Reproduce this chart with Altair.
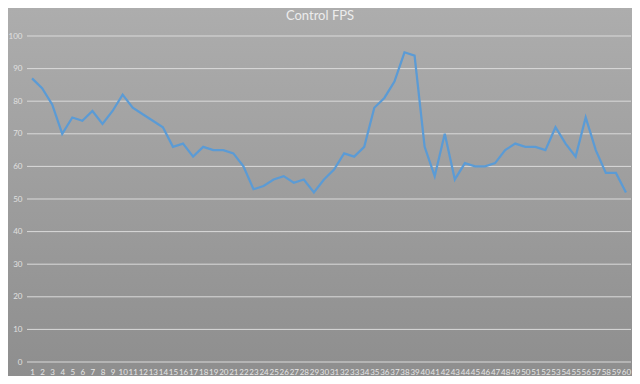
import altair as alt
import pandas as pd

frames = list(range(1, 61))
fps = [87, 84, 79, 70, 75, 74, 77, 73, 77, 82,
       78, 76, 74, 72, 66, 67, 63, 66, 65, 65,
       64, 60, 53, 54, 56, 57, 55, 56, 52, 56,
       59, 64, 63, 66, 78, 81, 86, 95, 94, 66,
       57, 70, 56, 61, 60, 60, 61, 65, 67, 66,
       66, 65, 72, 67, 63, 75, 65, 58, 58, 52]
y_ticks = list(range(0, 101, 10))

df = pd.DataFrame({"frame": frames, "fps": fps})
grid_df = pd.DataFrame({"v": y_ticks})

W, H = 604, 326
PL, PT, PR, PB = 19, 28, 1, 14

bg = alt.Chart(pd.DataFrame({"a": [0]})).mark_rect(
    fill={"gradient": "linear", "x1": 0, "y1": 0, "x2": 0, "y2": 1,
          "stops": [{"offset": 0, "color": "#adadad"},
                    {"offset": 1, "color": "#8e8e8e"}]}
).encode(
    x=alt.value(-PL), x2=alt.value(W + PR),
    y=alt.value(-PT), y2=alt.value(H + PB)
)

y_axis = alt.Axis(values=y_ticks, labelFontSize=8, labelColor="#e0e0e0",
                  labelFont="Lato", ticks=False, domain=False,
                  labelOverlap=False, grid=False, labelPadding=5, zindex=2)

grid = alt.Chart(grid_df).mark_rule(color="#dadada", strokeWidth=1).encode(
    y=alt.Y("v:Q", title=None, axis=y_axis,
            scale=alt.Scale(domain=[0, 100], nice=False)),
    x=alt.value(0), x2=alt.value(W)
)

line = alt.Chart(df).mark_line(color="#5b9bd5", strokeWidth=2.25).encode(
    x=alt.X("frame:O", sort=frames, title=None,
            scale=alt.Scale(paddingOuter=0.5),
            axis=alt.Axis(labelAngle=0, labelOverlap=False, labelFontSize=8,
                          labelColor="#e6e6e6", labelFont="Lato", ticks=False,
                          domain=False, grid=False, labelPadding=6, zindex=2)),
    y=alt.Y("fps:Q", title=None,
            scale=alt.Scale(domain=[0, 100], nice=False), axis=y_axis)
)

chart = alt.layer(bg, grid, line).properties(
    width=W, height=H,
    autosize=alt.AutoSizeParams(type="none"),
    padding={"left": PL, "top": PT, "right": PR, "bottom": PB},
    background="#9e9e9e",
    title=alt.TitleParams("Control FPS", color="#ececec", font="Lato",
                          fontSize=13, fontWeight="normal", offset=-15, dx=-9,
                          frame="group", zindex=2)
).configure_view(stroke=None)

chart.save("out.html", embed_options={"renderer": "svg", "actions": False})
